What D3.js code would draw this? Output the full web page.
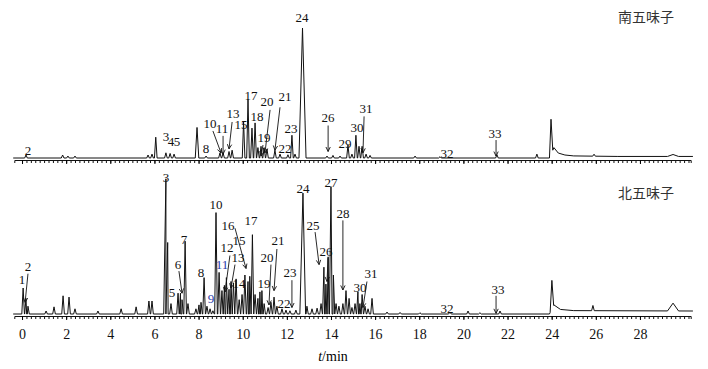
<!DOCTYPE html>
<html>
<head>
<meta charset="utf-8">
<script src="https://cdn.jsdelivr.net/npm/d3@7"></script>
<style>
  body{margin:0;background:#fff;}
  svg{display:block;}
  .lbl{font-family:"Liberation Serif","Times New Roman",serif;font-size:13px;fill:#111;}
  .tick text{font-family:"Liberation Serif","Times New Roman",serif;font-size:14px;}
  .ttl{font-family:"Noto Sans CJK SC",sans-serif;font-size:14px;fill:#333;}
</style>
</head>
<body>
<div id="chart"></div>
<script>
// peaks: [retention time (min), height, half width (min, optional)]
const peaksTop = [
  [0.18,2.3],[1.84,2.3],[2.08,1.5],[2.40,1.5],[5.71,2.3],[5.89,3],[6.06,16],[6.52,4],[6.71,3.5],[6.89,3],
  [7.93,23.5,0.08],[8.34,1.5],[8.97,4],[9.11,4],[9.38,5],[9.52,6],[10.04,28],[10.24,45],[10.42,23],[10.56,27],
  [10.69,8],[10.83,9],[10.97,8],[11.10,7],[11.46,6],[11.69,3],[12.05,2.5],[12.23,17.5],[12.37,3],[12.71,100,0.16],
  [13.82,1.5],[14.09,2],[14.41,1.5],[14.77,10],[14.95,3],[15.13,17.5],[15.27,9],[15.41,9],[15.59,3],[15.77,2],
  [17.81,1.5],[18.94,1],[21.52,2.5],[23.33,3],[23.97,27,0.08],[25.92,1.5],[29.5,1.5,0.25]
];
const driftTop = [[-0.4,0],[23.9,0],[24.1,8],[24.3,3.8],[24.6,2.3],[25,1.6],[27,1.2],[30.4,1.2]];

const peaksBot = [
  [0.05,20],[0.18,12],[0.27,6],[1.09,2.3],[1.45,5.5],[1.86,14],[2.13,13],[2.40,4],[3.44,2.3],[4.49,4],
  [5.17,5.5],[5.75,10],[5.89,10],[6.52,104,0.1],[6.6,55,0.08],[6.75,8],[7.07,16],[7.18,16],[7.25,11],[7.39,56],
  [7.52,8],[7.88,4],[8.02,7],[8.11,9],[8.25,28],[8.38,6],[8.52,4],[8.65,2.5],[8.79,78],[8.93,32],
  [9.06,18],[9.17,22],[9.26,28],[9.38,19],[9.47,25],[9.58,24],[9.70,27],[9.84,11],[9.97,15],[10.10,30],
  [10.24,25],[10.32,29],[10.44,61],[10.56,15],[10.69,12],[10.78,17],[10.87,18],[10.97,8],[11.15,5],[11.28,9],
  [11.42,13],[11.55,6],[11.78,4],[11.96,3],[12.14,2.5],[12.41,3],[12.73,93,0.14],[12.91,6],[13.14,4],[13.37,4.5],
  [13.55,8],[13.68,36],[13.77,23],[13.87,44],[14.0,98,0.09],[14.11,30],[14.23,8],[14.36,6],[14.54,8],[14.68,18],
  [14.82,12],[14.95,5],[15.09,8],[15.22,17],[15.31,8],[15.41,15],[15.54,6],[15.68,4],[15.86,12],[16.54,1.5],
  [17.13,1.2],[18.03,1],[19.39,1.5],[20.21,2.3],[20.75,1],[21.66,2.3],[24.01,22,0.08],[25.87,4],[29.5,6,0.25]
];
const driftBot = [[-0.4,0],[23.9,0],[24.1,7],[24.4,3.5],[25,2.6],[30.4,2.3]];

// labels: [text, t, v, arrow start t, v, arrow end t, v]
const labelsTop = [
  ["2",0.27,2.3],["3",6.52,13],["4",6.75,9.2],["5",7.02,9.2],["8",8.34,3.8],
  ["10",8.52,23,8.65,20.8,9.02,3.8],["11",9.06,19,9.11,17,9.11,3],["13",9.56,31,9.52,27.7,9.38,7],
  ["15",9.92,22],["17",10.38,45],["18",10.65,28.5],["19",10.97,12.3,10.92,10,10.83,1.5],
  ["20",11.10,40,11.24,37,11.01,4],["21",11.92,44,11.69,39,11.46,6],["22",11.92,3.8],["23",12.19,19],
  ["24",12.69,105],["26",13.87,27.7,13.87,25,13.87,5],["29",14.64,7.7],["30",15.18,20],
  ["31",15.59,34.6,15.5,32,15.45,4],["32",19.26,0],["33",21.43,15.4,21.48,13.8,21.48,1.5]
];
const labelsBot = [
  ["1",0,23],["2",0.27,33,0.27,31,0.14,9],["3",6.52,101.5],["5",6.80,13],["6",7.07,35,7.11,33,7.25,16],
  ["7",7.34,54],["8",8.11,28.5],["9",8.56,8.5],["10",8.79,81],["11",9.06,35],
  ["12",9.29,48,9.42,45,9.2,17],["13",9.79,40,9.65,38,9.47,20],["14",9.83,20],["15",9.83,53],
  ["16",9.33,64.6,9.65,66,10.15,35],["17",10.38,68.5],["19",10.97,20],["20",11.10,40,11.28,38,11.19,7],
  ["21",11.60,53,11.55,50,11.42,18],["22",11.87,4.6],["23",12.14,28.5,12.23,26,12.23,5],["24",12.73,93],
  ["25",13.19,64.6,13.28,63,13.46,38],["26",13.77,45,13.87,43,13.82,25],["27",14.0,97.7],
  ["28",14.54,74,14.54,72,14.54,18.5],["30",15.31,17],["31",15.81,27.7,15.63,25,15.45,5],
  ["32",19.26,1],["33",21.57,15.4,21.48,14,21.48,0.5]
];
const xTicks = [0,2,4,6,8,10,12,14,16,18,20,22,24,26,28];

const W = 708, H = 369;
const svg = d3.select('#chart').append('svg').attr('width',W).attr('height',H);

const x = d3.scaleLinear().domain([-0.35,30.3]).range([14.3,690.7]);

function panel(peaks, drift, labels, base, axisY, title, titleY, isBottom){
  const y = d3.scaleLinear().domain([0,100]).range([base, base-130]);
  const d = d3.scaleLinear().domain(drift.map(p=>p[0])).range(drift.map(p=>p[1])).clamp(true);

  let pts = drift.map(p=>[p[0],p[1]]);
  peaks.forEach(p=>{
    const w = p[2] || 0.06;
    pts.push([p[0]-w, d(p[0]-w)]);
    pts.push([p[0], d(p[0]) + p[1]]);
    pts.push([p[0]+w, d(p[0]+w)]);
  });
  pts.sort((a,b)=>a[0]-b[0]);

  const line = d3.line().x(p=>x(p[0])).y(p=>y(p[1]));
  svg.append('path').datum(pts).attr('d',line)
     .attr('fill','none').attr('stroke','#111').attr('stroke-width',1);

  // minor ticks
  svg.append('g').attr('transform','translate(0,'+axisY+')')
     .call(d3.axisBottom(x).tickValues(d3.range(0,30.3,0.2)).tickSize(3).tickFormat(''))
     .call(g=>g.selectAll('path,line').attr('stroke','#111'));

  const major = svg.append('g').attr('transform','translate(0,'+axisY+')')
     .call(d3.axisBottom(x).tickValues(xTicks).tickSize(4).tickPadding(9).tickFormat(isBottom ? d3.format('d') : ''));
  major.selectAll('path').remove();
  major.selectAll('.tick text').attr('fill','#111');

  const lg = svg.append('g');
  labels.forEach(l=>{
    const col = (l[0]==='9' || (l[0]==='11' && isBottom)) ? '#2a3caa' : '#111';
    lg.append('text').attr('class','lbl').attr('text-anchor','middle')
      .attr('x',x(l[1])).attr('y',y(l[2])).style('fill',col).text(l[0]);
    if(l.length > 3){
      const x1 = x(l[3]), y1 = y(l[4]), x2 = x(l[5]), y2 = y(l[6]);
      lg.append('line').attr('x1',x1).attr('y1',y1).attr('x2',x2).attr('y2',y2)
        .attr('stroke','#111').attr('stroke-width',0.9);
      const a = Math.atan2(y2-y1, x2-x1), s = 5;
      [0.45,-0.45].forEach(da=>{
        lg.append('line').attr('x1',x2).attr('y1',y2)
          .attr('x2',x2 - s*Math.cos(a+da)).attr('y2',y2 - s*Math.sin(a+da))
          .attr('stroke','#111').attr('stroke-width',0.9);
      });
    }
  });

  svg.append('text').attr('class','ttl').attr('x',618).attr('y',titleY).text(title);
}

panel(peaksTop, driftTop, labelsTop, 158, 160, '南五味子', 22, false);
panel(peaksBot, driftBot, labelsBot, 314, 316, '北五味子', 198, true);

svg.append('text').attr('x',333).attr('y',361).attr('text-anchor','middle')
   .style('font-family','"Liberation Serif","Times New Roman",serif').style('font-size','14px')
   .html('<tspan font-style="italic">t</tspan>/min');
</script>
</body>
</html>
